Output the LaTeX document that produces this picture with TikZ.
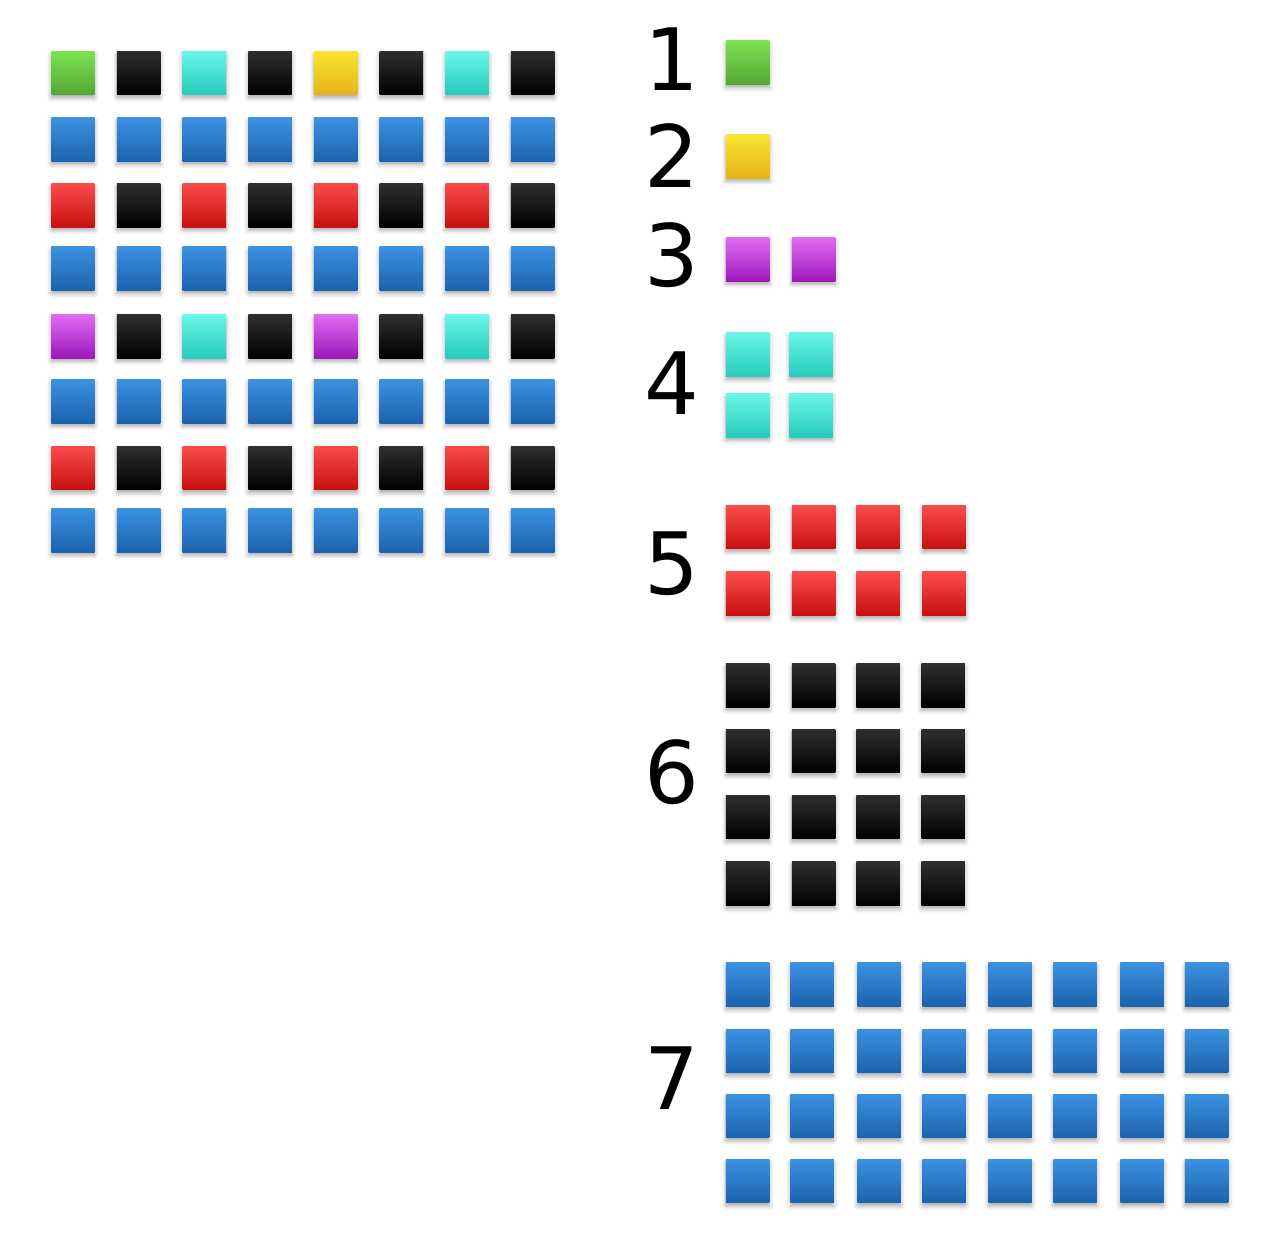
\documentclass[tikz,border=0pt]{standalone}
\usepackage{fontspec}
\setmainfont{DejaVu Sans}
\usetikzlibrary{shadows.blur}

\definecolor{greentop}{HTML}{7CE251}
\definecolor{greenbot}{HTML}{55A733}
\definecolor{blacktop}{HTML}{2F2F2F}
\definecolor{blackbot}{HTML}{000000}
\definecolor{cyantop}{HTML}{6AF5E8}
\definecolor{cyanbot}{HTML}{26CBBB}
\definecolor{yellowtop}{HTML}{F7E531}
\definecolor{yellowbot}{HTML}{E6B319}
\definecolor{bluetop}{HTML}{3B91E2}
\definecolor{bluebot}{HTML}{1C62AD}
\definecolor{redtop}{HTML}{FA4C4C}
\definecolor{redbot}{HTML}{C80F0F}
\definecolor{purpletop}{HTML}{DE6CF1}
\definecolor{purplebot}{HTML}{9E17BD}

\tikzstyle{tile} = [rectangle, 
minimum size=0.87cm, 
inner sep=0pt, 
blur shadow={shadow xshift=0pt, shadow yshift=-1.8pt, 
shadow blur radius=2.5pt, shadow opacity=35}]
\tikzstyle{greentile} = [tile, top color=greentop, bottom color=greenbot]
\tikzstyle{blacktile} = [tile, top color=blacktop, bottom color=blackbot]
\tikzstyle{cyantile} = [tile, top color=cyantop, bottom color=cyanbot]
\tikzstyle{yellowtile} = [tile, top color=yellowtop, bottom color=yellowbot]
\tikzstyle{bluetile} = [tile, top color=bluetop, bottom color=bluebot]
\tikzstyle{redtile} = [tile, top color=redtop, bottom color=redbot]
\tikzstyle{purpletile} = [tile, top color=purpletop, bottom color=purplebot]
\tikzstyle{count} = [font=\fontsize{49}{49}\selectfont, inner sep=0pt]

\begin{document}
\begin{tikzpicture}[x=0.02cm, y=-0.02cm]

\useasboundingbox (0,0) rectangle (1280,1258);

% the mixed 8x8 board
\foreach \ty/\cola/\colb/\colc/\cold [count=\r] in 
  {73/greentile/cyantile/yellowtile/cyantile,
   205.3/redtile/redtile/redtile/redtile,
   336.3/purpletile/cyantile/purpletile/cyantile,
   468/redtile/redtile/redtile/redtile} {
  \node (even\r-1) [\cola] at (73,\ty) {};
  \node (even\r-3) [\colb] at (204.3,\ty) {};
  \node (even\r-5) [\colc] at (335.7,\ty) {};
  \node (even\r-7) [\cold] at (467,\ty) {};
  \foreach \tx in {138.7,270,401.3,532.7}
    \node (even\r-\tx) [blacktile] at (\tx,\ty) {};
}
\foreach \ty [count=\r] in {139.7,268.7,401.3,530.3}
  \foreach \k in {0,...,7}
    \node (odd\r-\k) [bluetile] at ({73+65.67*\k},\ty) {};

% counts
\node (lab1) [count] at (672,59.5) {1};
\node (lab2) [count] at (672,155.7) {2};
\node (lab3) [count] at (672,255) {3};
\node (lab4) [count] at (672,383.5) {4};
\node (lab5) [count] at (672,563.5) {5};
\node (lab6) [count] at (672,772.5) {6};
\node (lab7) [count] at (672,1078.5) {7};

% groups
\node (one) [greentile] at (747.7,62.7) {};
\node (two) [yellowtile] at (747.7,156.3) {};
\node (three-1) [purpletile] at (747.7,259.3) {};
\node (three-2) [purpletile] at (813.7,259.3) {};
\foreach \tx [count=\k] in {747.7,811}
  \foreach \ty [count=\r] in {354.7,415.3}
    \node (four-\r-\k) [cyantile] at (\tx,\ty) {};
\foreach \tx [count=\k] in {747.7,813.7,878,944}
  \foreach \ty [count=\r] in {527,593.7}
    \node (five-\r-\k) [redtile] at (\tx,\ty) {};
\foreach \tx [count=\k] in {747.7,813.7,878,943}
  \foreach \ty [count=\r] in {685.3,751,817,883.7}
    \node (six-\r-\k) [blacktile] at (\tx,\ty) {};
\foreach \tx [count=\k] in {747.7,812,879,944,1010,1075,1142,1206.7}
  \foreach \ty [count=\r] in {984.7,1051,1116,1181}
    \node (seven-\r-\k) [bluetile] at (\tx,\ty) {};

\end{tikzpicture}
\end{document}
